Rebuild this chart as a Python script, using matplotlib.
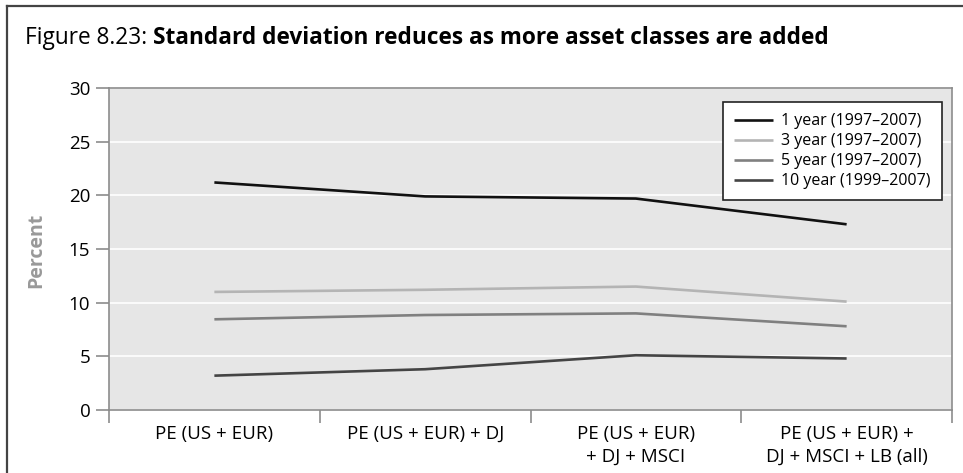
import matplotlib
matplotlib.use("Agg")
import matplotlib.pyplot as plt
from matplotlib.lines import Line2D

plt.rcParams['font.family'] = ['Open Sans', 'DejaVu Sans']

categories = ["PE (US + EUR)", "PE (US + EUR) + DJ", "PE (US + EUR)\n+ DJ + MSCI", "PE (US + EUR) +\nDJ + MSCI + LB (all)"]
series_names = ["1 year (1997\u20132007)", "3 year (1997\u20132007)", "5 year (1997\u20132007)", "10 year (1999\u20132007)"]
one_year = [21.2, 19.9, 19.7, 17.3]
three_year = [11.0, 11.2, 11.5, 10.1]
five_year = [8.45, 8.85, 9.0, 7.8]
ten_year = [3.2, 3.8, 5.1, 4.8]
series_colors = ["#111111", "#b4b4b4", "#808080", "#444444"]

W, H = 963, 473
fig = plt.figure(figsize=(W / 100, H / 100), dpi=100)
ax = fig.add_axes([109 / W, 1 - 410 / H, (952 - 109) / W, (410 - 88) / H])

x = list(range(len(categories)))
for vals, name, col in zip([one_year, three_year, five_year, ten_year], series_names, series_colors):
    ax.plot(x, vals, color=col, lw=1.9, label=name, solid_capstyle='butt')

ax.set_facecolor("#e6e6e6")
ax.set_xlim(-0.5, 3.5)
ax.set_ylim(0, 30)
ax.set_yticks(range(0, 31, 5))
ax.grid(axis='y', color='white', lw=1.2)
ax.set_axisbelow(True)
for s in ['top', 'right', 'left', 'bottom']:
    ax.spines[s].set_color("#8c8c8c")
    ax.spines[s].set_linewidth(1.2)

ax.set_xticks(x)
ax.set_xticklabels(categories, fontsize=13.5, va='top', linespacing=1.35)
ax.tick_params(axis='x', which='major', length=0, pad=11)
ax.set_xticks([-0.5, 0.5, 1.5, 2.5, 3.5], minor=True)
ax.tick_params(axis='x', which='minor', length=9.5, color="#8c8c8c", width=1.2, direction='out')
ax.tick_params(axis='y', length=9.5, color="#8c8c8c", width=1.2, labelsize=13.5, pad=4)

fig.text(36 / W, 1 - 250 / H, "Percent", color="#999999", fontsize=14, fontweight='bold',
         rotation=90, ha='center', va='center')

leg = ax.legend(loc='upper right', bbox_to_anchor=((942 - 109) / 843, (410 - 102) / 322),
                fontsize=11.5, frameon=True, fancybox=False, edgecolor='#222222', framealpha=1,
                handlelength=2.45, handletextpad=0.5, borderpad=0.7, labelspacing=0.25,
                borderaxespad=0)
leg.get_frame().set_linewidth(1.2)

t1 = fig.text(25 / W, 1 - 44 / H, "Figure 8.23: ", fontsize=16.3, va='baseline')
fig.canvas.draw()
bb = t1.get_window_extent()
fig.text(bb.x1 / W, 1 - 44 / H, "Standard deviation reduces as more asset classes are added",
         fontsize=16.3, fontweight='bold', va='baseline')

fig.add_artist(Line2D([7 / W, 7 / W], [0, 1 - 6 / H], color="#444444", lw=1.6))
fig.add_artist(Line2D([7 / W, 1], [1 - 6 / H, 1 - 6 / H], color="#444444", lw=1.6))

fig.savefig("out.png", dpi=100)
